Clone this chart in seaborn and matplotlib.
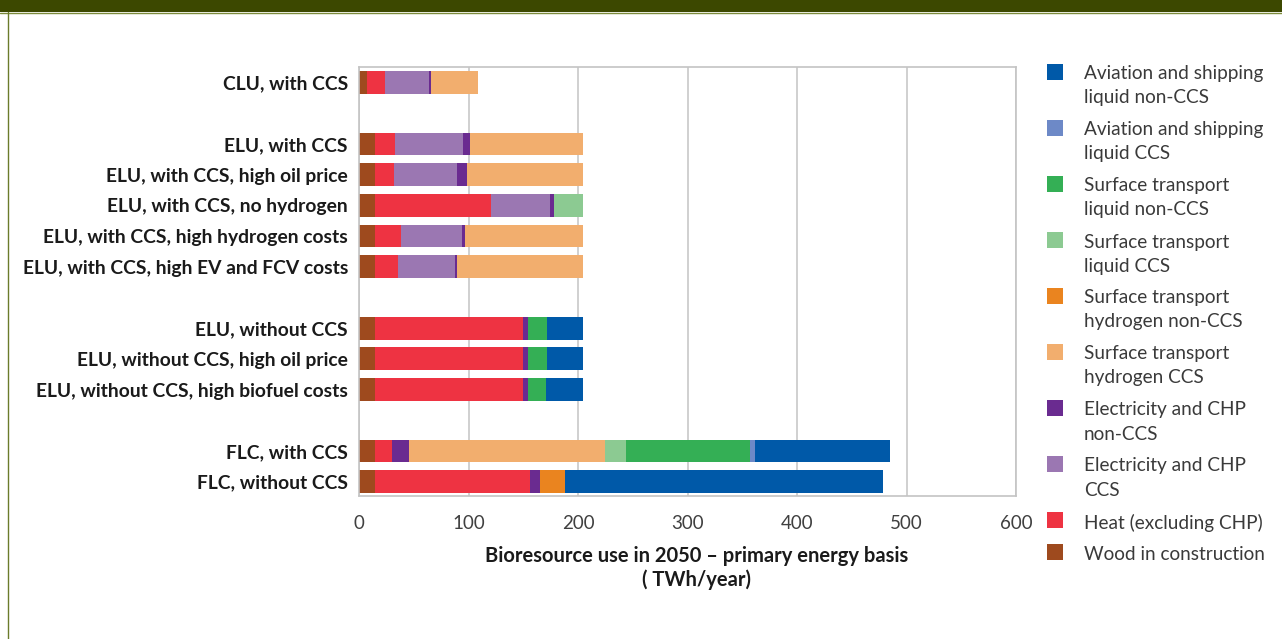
import numpy as np
import pandas as pd
import matplotlib
matplotlib.use('Agg')
import matplotlib.pyplot as plt
from matplotlib.patches import Rectangle
from matplotlib.lines import Line2D
import seaborn as sns

# Scenario groups (a blank row is left between groups)
groups = [
    ["CLU, with CCS"],
    ["ELU, with CCS", "ELU, with CCS, high oil price", "ELU, with CCS, no hydrogen",
     "ELU, with CCS, high hydrogen costs", "ELU, with CCS, high EV and FCV costs"],
    ["ELU, without CCS", "ELU, without CCS, high oil price", "ELU, without CCS, high biofuel costs"],
    ["FLC, with CCS", "FLC, without CCS"],
]

# TWh/year per end use, one value per scenario (same order as above)
wood      = [7.3, 14.6, 14.6, 14.6, 14.6, 14.6, 14.6, 14.6, 14.6, 14.6, 14.6]
heat      = [16.5, 18.3, 17.4, 106.2, 23.8, 21.1, 135.4, 135.4, 135.4, 15.6, 141.8]
elec_ccs  = [40.5, 62.3, 57.7, 53.9, 55.8, 52.1, 0, 0, 0, 0, 0]
elec_non  = [1.6, 6.4, 9.1, 3.7, 2.8, 1.9, 4.6, 4.6, 4.6, 15.5, 9.2]
h2_ccs    = [43.0, 103.3, 106.1, 0, 107.9, 115.2, 0, 0, 0, 179.4, 0]
h2_non    = [0, 0, 0, 0, 0, 0, 0, 0, 0, 0, 22.9]
liq_ccs   = [0, 0, 0, 26.5, 0, 0, 0, 0, 0, 18.3, 0]
liq_non   = [0, 0, 0, 0, 0, 0, 17.4, 17.4, 16.5, 113.4, 0]
av_ccs    = [0, 0, 0, 0, 0, 0, 0, 0, 0, 4.6, 0]
av_non    = [0, 0, 0, 0, 0, 0, 32.9, 32.9, 33.8, 123.2, 290.0]

# stacking order, left to right
components = ["Wood in construction", "Heat (excluding CHP)", "Electricity and CHP\nCCS",
              "Electricity and CHP\nnon-CCS", "Surface transport\nhydrogen CCS",
              "Surface transport\nhydrogen non-CCS", "Surface transport\nliquid CCS",
              "Surface transport\nliquid non-CCS", "Aviation and shipping\nliquid CCS",
              "Aviation and shipping\nliquid non-CCS"]
series = [wood, heat, elec_ccs, elec_non, h2_ccs, h2_non, liq_ccs, liq_non, av_ccs, av_non]
colors = ['#9e4a1e', '#ee3342', '#9b77b2', '#6a2b90', '#f2ae6e',
          '#ea841f', '#8cca92', '#34af55', '#6d89c7', '#0059a8']

# positions with a gap row between groups
scenarios, pos = [], []
p = 0
for g in groups:
    for s in g:
        scenarios.append(s)
        pos.append(p)
        p += 1
    p += 1

vals = np.array(series)
cum = np.cumsum(vals, axis=0)
rows = []
for k, comp in enumerate(components):
    for j in range(len(scenarios)):
        rows.append({'component': comp, 'pos': pos[j],
                     'cum': cum[k, j] if vals[k, j] > 0 else np.nan})
df = pd.DataFrame(rows)

sns.set_style('white')
plt.rcParams['font.family'] = ['Lato', 'DejaVu Sans']

W, H = 1282, 639
fig = plt.figure(figsize=(W / 100, H / 100), dpi=100)
ax = fig.add_axes([359 / W, 1 - 495.5 / H, 657 / W, 429 / H])

# overlapping cumulative bars: longest drawn first
sns.barplot(data=df, x='cum', y='pos', hue='component', hue_order=components[::-1],
            palette=dict(zip(components, colors)), dodge=False, native_scale=True,
            orient='y', width=0.74, linewidth=0, errorbar=None, legend=False, ax=ax,
            saturation=1)

ax.set_xlim(0, 600)
ax.set_ylim(max(pos) + 0.45, -0.52)
ax.set_xticks(range(0, 601, 100))
ax.set_yticks(pos)
ax.set_yticklabels(scenarios, fontweight='bold')
ax.set_ylabel('')
ax.grid(axis='x', color='#c8c8c8', lw=1.2)
ax.grid(axis='y', visible=False)
ax.set_axisbelow(True)
for sp in ax.spines.values():
    sp.set_color('#c4c4c4')
    sp.set_linewidth(1.2)
ax.tick_params(axis='x', length=4, color='#c4c4c4', width=1.2, pad=10,
               labelsize=13.5, labelcolor='#404040')
ax.tick_params(axis='y', length=0, pad=8, labelsize=13.9, labelcolor='#1a1a1a')
ax.set_xlabel('Bioresource use in 2050 \u2013 primary energy basis\n( TWh/year)',
              fontsize=14.5, fontweight='bold', color='#1a1a1a', linespacing=1.2)
ax.xaxis.set_label_coords(0.514, -0.118)
ax.xaxis.label.set_va('top')

# legend, top to bottom
y = 64
for comp, c in zip(components[::-1], colors[::-1]):
    fig.add_artist(Rectangle((1047 / W, 1 - (y + 16) / H), 16 / W, 16 / H,
                             transform=fig.transFigure, color=c, lw=0))
    fig.text(1084 / W, 1 - (y + 1.5) / H, comp, fontsize=13.7, color='#3a3a3a',
             va='top', ha='left', linespacing=1.5)
    y += 56 if '\n' in comp else 32

# page frame
fig.add_artist(Rectangle((0, 1 - 12 / H), 1, 12 / H, transform=fig.transFigure,
                         color='#3c4800', lw=0))
fig.add_artist(Line2D([0, 1], [1 - 12.5 / H] * 2, transform=fig.transFigure,
                      color='#7d8c3c', lw=1))
fig.add_artist(Line2D([7.5 / W] * 2, [0, 1 - 12 / H], transform=fig.transFigure,
                      color='#6b7b2b', lw=1))

fig.savefig('out.png', dpi=100)
